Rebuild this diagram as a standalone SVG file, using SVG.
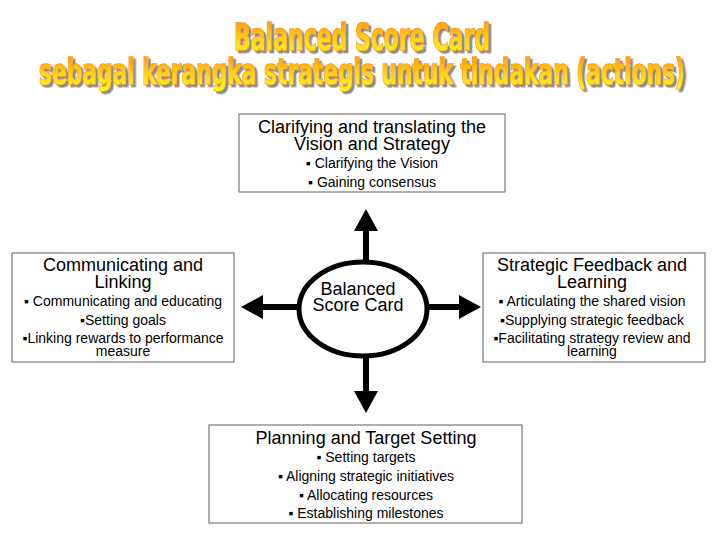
<svg xmlns="http://www.w3.org/2000/svg" width="720" height="540" viewBox="0 0 720 540">
  <defs>
    <linearGradient id="titleGrad" x1="0" y1="0" x2="0" y2="1">
      <stop offset="0" stop-color="#ff8a10"/>
      <stop offset="0.55" stop-color="#ffd21a"/>
      <stop offset="1" stop-color="#ffff20"/>
    </linearGradient>
    <filter id="shadow" x="-5%" y="-20%" width="110%" height="150%">
      <feDropShadow dx="2.5" dy="2.5" stdDeviation="0.6" flood-color="#8c8c8c" flood-opacity="1"/>
    </filter>
    <marker id="head" viewBox="0 0 22 24" markerWidth="22" markerHeight="24" refX="1" refY="12" orient="auto" markerUnits="userSpaceOnUse">
      <path d="M0,0 L22,12 L0,24 Z" fill="#000"/>
    </marker>
  </defs>
  <style>
    .box { fill: #fff; stroke: #7a7a7a; stroke-width: 1.2; }
    .hd { font-family: "Liberation Sans", Arial, sans-serif; font-size: 18px; fill: #000; text-anchor: middle; }
    .bl { font-family: "Liberation Sans", Arial, sans-serif; font-size: 14px; fill: #000; text-anchor: middle; }
    .ttl { font-family: "Liberation Sans Narrow", "DejaVu Sans Condensed", "Liberation Sans", sans-serif; font-weight: bold; text-anchor: middle; fill: url(#titleGrad); stroke: #ff9a10; stroke-width: 1.6; paint-order: stroke; filter: url(#shadow); }
    .arrow { stroke: #000; stroke-width: 6; fill: none; marker-end: url(#head); }
  </style>
  <rect width="720" height="540" fill="#fff"/>

  <g id="title">
    <text class="ttl" x="362" y="50" font-size="38" textLength="256" lengthAdjust="spacingAndGlyphs">Balanced Score Card</text>
    <text class="ttl" x="362" y="84" font-size="36" textLength="646" lengthAdjust="spacingAndGlyphs">sebagai kerangka strategis untuk tindakan (actions)</text>
  </g>

  <g id="connectors">
    <line class="arrow" x1="366" y1="264" x2="366" y2="230"/>
    <line class="arrow" x1="366" y1="354" x2="366" y2="392"/>
    <line class="arrow" x1="301" y1="307" x2="262" y2="307"/>
    <line class="arrow" x1="425" y1="307" x2="460" y2="307"/>
  </g>

  <g id="vision">
    <rect class="box" x="239" y="114" width="266" height="78"/>
    <text class="hd" x="372" y="133">Clarifying and translating the</text>
    <text class="hd" x="372" y="150">Vision and Strategy</text>
    <text class="bl" x="372" y="168">▪ Clarifying the Vision</text>
    <text class="bl" x="372" y="187">▪ Gaining consensus</text>
  </g>

  <g id="communicating">
    <rect class="box" x="12" y="253" width="222" height="109"/>
    <text class="hd" x="123" y="271">Communicating and</text>
    <text class="hd" x="123" y="288">Linking</text>
    <text class="bl" x="123" y="306">▪ Communicating and educating</text>
    <text class="bl" x="123" y="325">▪Setting goals</text>
    <text class="bl" x="123" y="343">▪Linking rewards to performance</text>
    <text class="bl" x="123" y="356">measure</text>
  </g>

  <g id="feedback">
    <rect class="box" x="483" y="253" width="222" height="109"/>
    <text class="hd" x="592" y="271">Strategic Feedback and</text>
    <text class="hd" x="592" y="288">Learning</text>
    <text class="bl" x="592" y="306">▪ Articulating the shared vision</text>
    <text class="bl" x="592" y="325">▪Supplying strategic feedback</text>
    <text class="bl" x="592" y="343">▪Facilitating strategy review and</text>
    <text class="bl" x="592" y="356">learning</text>
  </g>

  <g id="planning">
    <rect class="box" x="209" y="425" width="313" height="98"/>
    <text class="hd" x="366" y="444">Planning and Target Setting</text>
    <text class="bl" x="366" y="462">▪ Setting targets</text>
    <text class="bl" x="366" y="481">▪ Aligning strategic initiatives</text>
    <text class="bl" x="366" y="500">▪ Allocating resources</text>
    <text class="bl" x="366" y="518">▪ Establishing milestones</text>
  </g>

  <g id="bsc">
    <ellipse cx="363" cy="309" rx="64" ry="47" fill="#fff" stroke="#000" stroke-width="5"/>
    <text class="hd" x="358" y="295">Balanced</text>
    <text class="hd" x="358" y="311">Score Card</text>
  </g>
</svg>
